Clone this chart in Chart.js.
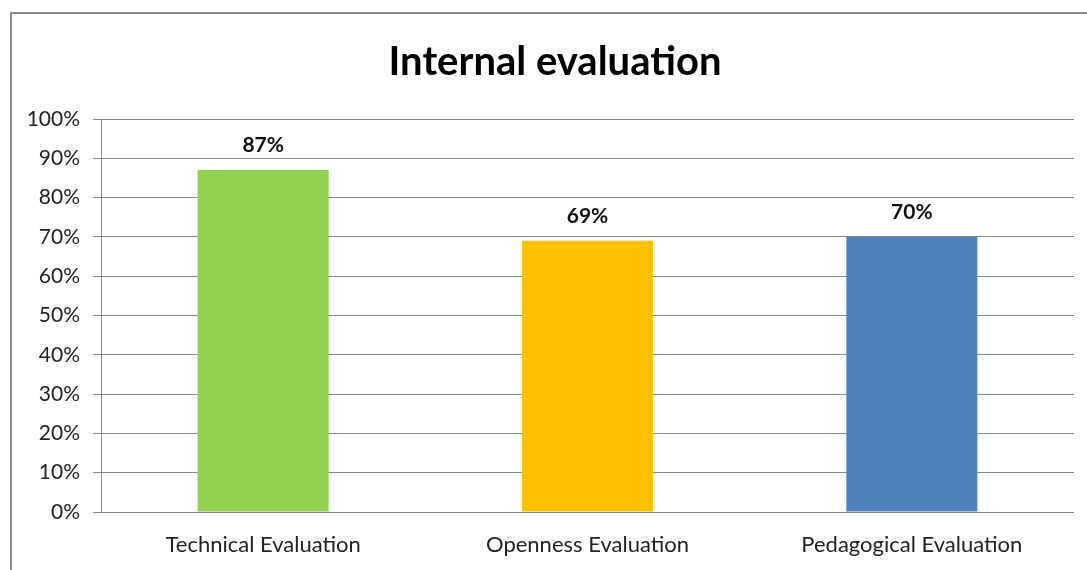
<!DOCTYPE html>
<html>
<head>
<meta charset="utf-8">
<script src="https://cdn.jsdelivr.net/npm/chart.js@4"></script>
<style>
  html, body { margin: 0; padding: 0; background: #fff; }
  #wrap { position: relative; width: 1087px; height: 570px; }
</style>
</head>
<body>
<div id="wrap"><canvas id="c" width="1087" height="570"></canvas></div>
<script>
// Chart content
const titleText = 'Internal evaluation';
const categories = ['Technical Evaluation', 'Openness Evaluation', 'Pedagogical Evaluation'];
const scores = [87, 69, 70];
const barColors = ['#92D050', '#FFC000', '#4F81BD'];
const yTicks = [0, 10, 20, 30, 40, 50, 60, 70, 80, 90, 100];

const FONT = 'Lato, "Open Sans", sans-serif';

// Outer frame of the chart object and its centred heading
const framePlugin = {
  id: 'frame',
  beforeDraw(chart) {
    const ctx = chart.ctx;
    ctx.save();
    ctx.fillStyle = '#ffffff';
    ctx.fillRect(0, 0, chart.width, chart.height);
    ctx.strokeStyle = '#8a8a8a';
    ctx.lineWidth = 2;
    ctx.strokeRect(11, 13, chart.width + 20, chart.height + 20);
    ctx.font = 'bold 40px ' + FONT;
    ctx.fillStyle = '#000';
    ctx.textAlign = 'center';
    ctx.textBaseline = 'middle';
    ctx.fillText(titleText, 555, 62);
    ctx.restore();
  }
};

// Value labels above each bar
const valueLabels = {
  id: 'valueLabels',
  afterDatasetsDraw(chart) {
    const ctx = chart.ctx;
    const meta = chart.getDatasetMeta(0);
    ctx.save();
    ctx.font = 'bold 21px ' + FONT;
    ctx.fillStyle = '#111';
    ctx.textAlign = 'center';
    ctx.textBaseline = 'middle';
    meta.data.forEach((bar, i) => {
      ctx.fillText(scores[i] + '%', bar.x, bar.y - 25);
    });
    ctx.restore();
  }
};

new Chart(document.getElementById('c'), {
  type: 'bar',
  data: {
    labels: categories,
    datasets: [{
      data: scores,
      backgroundColor: barColors,
      borderWidth: 0,
      categoryPercentage: 1,
      barPercentage: 0.404
    }]
  },
  options: {
    responsive: false,
    animation: false,
    layout: { padding: { left: 0, right: 13, top: 119, bottom: 0 } },
    plugins: {
      legend: { display: false },
      tooltip: { enabled: false },
      title: { display: false }
    },
    scales: {
      x: {
        grid: { display: false, drawTicks: false },
        border: { display: false },
        ticks: {
          color: '#222',
          font: { family: FONT, size: 22 },
          padding: 20
        },
        afterFit(s) { s.height = 58; }
      },
      y: {
        min: 0,
        max: 100,
        afterBuildTicks(s) { s.ticks = yTicks.map(v => ({ value: v })); },
        grid: {
          color: '#868686',
          lineWidth: 1,
          tickLength: 8,
          tickColor: '#868686'
        },
        border: { display: true, color: '#868686', width: 1 },
        ticks: {
          color: '#222',
          font: { family: FONT, size: 21 },
          padding: 13,
          callback: v => v + '%'
        },
        afterFit(s) { s.width = 101; }
      }
    }
  },
  plugins: [framePlugin, valueLabels]
});
</script>
</body>
</html>
